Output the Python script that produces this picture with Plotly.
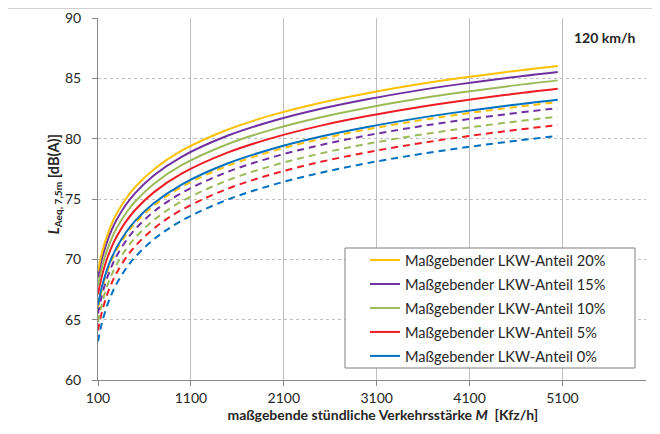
import plotly.graph_objects as go

# Verkehrsstärke M [Kfz/h]
M = [100, 125, 150, 200, 250, 300, 400, 500, 700, 1000, 1500, 2000, 2500, 3000, 3500, 4000, 4500, 5050]

labels = ["Maßgebender LKW-Anteil 20%", "Maßgebender LKW-Anteil 15%", "Maßgebender LKW-Anteil 10%",
          "Maßgebender LKW-Anteil 5%", "Maßgebender LKW-Anteil 0%"]
colors = ["#FFC000", "#7030A0", "#9BBB59", "#EE1C25", "#0070C0"]

solid_20 = [69.00, 69.97, 70.76, 72.01, 72.98, 73.77, 75.02, 75.99, 77.45, 79.00, 80.76, 82.01, 82.98, 83.77, 84.44, 85.02, 85.53, 86.03]
solid_15 = [68.50, 69.47, 70.26, 71.51, 72.48, 73.27, 74.52, 75.49, 76.95, 78.50, 80.26, 81.51, 82.48, 83.27, 83.94, 84.52, 85.03, 85.53]
solid_10 = [67.80, 68.77, 69.56, 70.81, 71.78, 72.57, 73.82, 74.79, 76.25, 77.80, 79.56, 80.81, 81.78, 82.57, 83.24, 83.82, 84.33, 84.83]
solid_5 = [67.10, 68.07, 68.86, 70.11, 71.08, 71.87, 73.12, 74.09, 75.55, 77.10, 78.86, 80.11, 81.08, 81.87, 82.54, 83.12, 83.63, 84.13]
solid_0 = [66.20, 67.17, 67.96, 69.21, 70.18, 70.97, 72.22, 73.19, 74.65, 76.20, 77.96, 79.21, 80.18, 80.97, 81.64, 82.22, 82.73, 83.23]

dash_20 = [66.00, 66.97, 67.76, 69.01, 69.98, 70.77, 72.02, 72.99, 74.45, 76.00, 77.76, 79.01, 79.98, 80.77, 81.44, 82.02, 82.53, 83.03]
dash_15 = [65.50, 66.47, 67.26, 68.51, 69.48, 70.27, 71.52, 72.49, 73.95, 75.50, 77.26, 78.51, 79.48, 80.27, 80.94, 81.52, 82.03, 82.53]
dash_10 = [64.80, 65.77, 66.56, 67.81, 68.78, 69.57, 70.82, 71.79, 73.25, 74.80, 76.56, 77.81, 78.78, 79.57, 80.24, 80.82, 81.33, 81.83]
dash_5 = [64.10, 65.07, 65.86, 67.11, 68.08, 68.87, 70.12, 71.09, 72.55, 74.10, 75.86, 77.11, 78.08, 78.87, 79.54, 80.12, 80.63, 81.13]
dash_0 = [63.20, 64.17, 64.96, 66.21, 67.18, 67.97, 69.22, 70.19, 71.65, 73.20, 74.96, 76.21, 77.18, 77.97, 78.64, 79.22, 79.73, 80.23]

x_ticks = [100, 1100, 2100, 3100, 4100, 5100]
y_ticks = [60, 65, 70, 75, 80, 85, 90]

solids = [solid_20, solid_15, solid_10, solid_5, solid_0]
dashes = [dash_20, dash_15, dash_10, dash_5, dash_0]

FONT = "Lato"
TXT = "#262626"
fig = go.Figure()

# dashed curves first (drawn below), no legend
for ys, c in zip(dashes[::-1], colors[::-1]):
    fig.add_trace(go.Scatter(x=M, y=ys, mode="lines", line=dict(color=c, width=2, dash="7px,5px", shape="spline"),
                             showlegend=False, hoverinfo="skip"))
# solid curves
for ys, c, n in zip(solids[::-1], colors[::-1], labels[::-1]):
    fig.add_trace(go.Scatter(x=M, y=ys, mode="lines", line=dict(color=c, width=2, shape="spline"),
                             name=n, legendgroup=n, legendrank=labels.index(n)))

# page body has an 8px margin -> figure is offset by 8px
OFF = 8
W, H = 660 - OFF, 434 - OFF
L, R, T, B = 98 - OFF, 14, 18 - OFF, 54
PW, PH = W - L - R, H - T - B


def px(xs):
    # screen x -> paper
    return (xs - OFF - L) / PW


def py(ys):
    # screen y -> paper
    return (H - B - (ys - OFF)) / PH


fig.update_layout(
    width=W, height=H,
    margin=dict(l=L, r=R, t=T, b=B, autoexpand=False),
    paper_bgcolor="white", plot_bgcolor="white",
    font=dict(family=FONT, size=14, color=TXT),
    showlegend=True,
    legend=dict(x=px(365), y=py(244), xanchor="left", yanchor="top", bgcolor="rgba(0,0,0,0)",
                borderwidth=0, font=dict(family=FONT, size=14.6, color=TXT),
                tracegroupgap=2, traceorder="grouped"),
    shapes=[
        dict(type="rect", xref="paper", yref="paper", x0=px(345), x1=px(635),
             y0=py(368), y1=py(248), line=dict(color="#7F7F7F", width=1),
             fillcolor="white", layer="above"),
        dict(type="rect", xref="paper", yref="paper", x0=px(7), x1=px(668),
             y0=py(445), y1=py(8), line=dict(color="#A6A6A6", width=1),
             fillcolor="rgba(0,0,0,0)", layer="below"),
    ],
    annotations=[
        dict(text="<b>120 km/h</b>", xref="paper", yref="paper", x=px(604), y=py(37),
             xanchor="center", yanchor="middle", showarrow=False,
             font=dict(family=FONT, size=14, color=TXT)),
    ],
)

fig.update_xaxes(
    range=[100, 6000], tickvals=x_ticks, ticktext=[str(v) for v in x_ticks],
    showgrid=True, gridcolor="#BFBFBF", gridwidth=1,
    showline=True, linecolor="#868686", linewidth=1,
    ticks="outside", ticklen=5, tickcolor="#868686", automargin=False,
    zeroline=False, tickfont=dict(family=FONT, size=14, color=TXT),
    title=dict(text="&nbsp;&nbsp;&nbsp;&nbsp;&nbsp;&nbsp;<b>maßgebende stündliche Verkehrsstärke <i>M</i>  [Kfz/h]</b>",
               font=dict(family=FONT, size=14, color=TXT), standoff=0),
)
fig.update_yaxes(
    range=[60, 90], tickvals=y_ticks,
    showgrid=True, gridcolor="#BFBFBF", gridwidth=1, griddash="dot",
    showline=True, linecolor="#868686", linewidth=1,
    ticks="outside", ticklen=5, tickcolor="#868686", automargin=False,
    ticklabelstandoff=8,
    zeroline=False, tickfont=dict(family=FONT, size=14, color=TXT),
    title=dict(text="&nbsp;&nbsp;&nbsp;&nbsp;&nbsp;&nbsp;&nbsp;&nbsp;<b><i>L</i><sub>Aeq, 7,5m</sub> [dB(A)]</b>",
               font=dict(family=FONT, size=14.5, color=TXT), standoff=1),
)

fig.write_html("out.html")
